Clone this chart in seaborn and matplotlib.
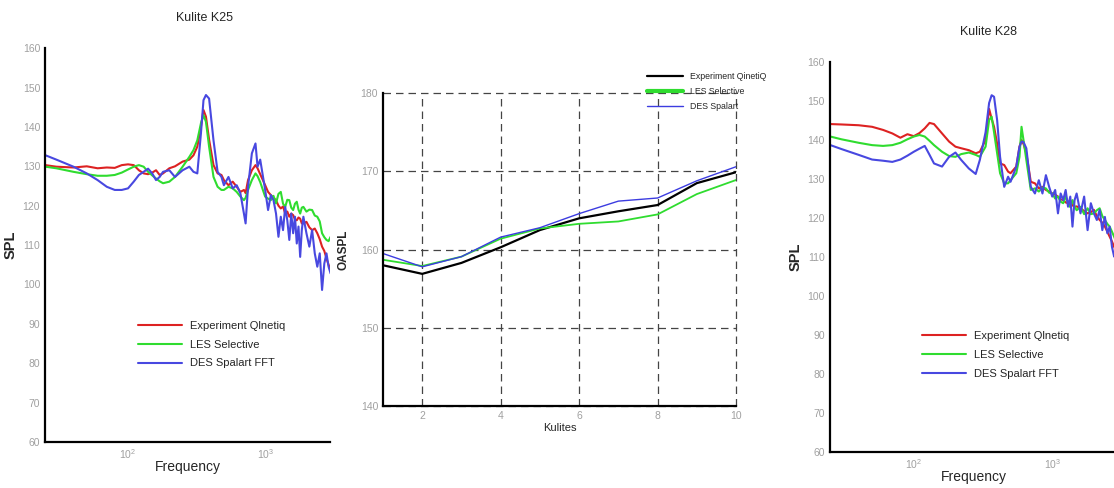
import numpy as np
import pandas as pd
import matplotlib
matplotlib.use("Agg")
import matplotlib.pyplot as plt
import seaborn as sns
from matplotlib.ticker import MultipleLocator, LogLocator

# ---- Kulite K25 spectrum ----
freq_k25 = [25, 30, 40, 50, 60, 70, 80, 90, 100,
            110, 120, 130, 140, 150, 160, 170, 180,
            200, 220, 250, 280, 300, 320, 340, 355, 370, 390,
            420, 450, 480, 500, 540, 580, 620, 660, 700, 720,
            750, 800, 850, 880, 920, 1000, 1050, 1100, 1150, 1200,
            1250, 1300, 1350, 1400, 1450, 1500, 1550, 1600, 1650, 1700,
            1750, 1800, 1850, 1900, 2000, 2100, 2200, 2300, 2400, 2500,
            2600, 2700, 2800, 2900, 3000]
k25_exp = [130.3, 129.9, 129.7, 130.0, 129.5, 129.7, 129.6, 130.3, 130.5,
           130.3, 129.0, 128.2, 128.0, 128.4, 129.0, 127.8, 128.2,
           129.5, 130.0, 131.2, 131.7, 132.8, 135.0, 140.0, 144.3, 142.6, 136.8,
           130.3, 128.2, 127.8, 126.5, 125.2, 126.1, 124.8, 123.5, 124.0, 123.2,
           126.5, 129.0, 130.3, 129.5, 128.0, 125.2, 123.5, 122.7, 122.0, 121.4,
           120.0, 119.3, 119.8, 118.0, 118.5, 117.2, 118.0, 117.6, 116.5, 116.3,
           117.0, 116.7, 115.5, 115.5, 115.9, 114.5, 113.8, 114.2, 113.0, 111.5,
           109.6, 108.5, 106.6, 105.0, 103.7]
k25_les = [129.9, 129.5, 128.6, 128.0, 127.6, 127.6, 127.8, 128.4, 129.2,
           129.9, 130.3, 129.9, 128.6, 127.7, 126.9, 126.2, 125.7,
           126.1, 127.3, 129.9, 132.4, 134.1, 136.6, 140.9, 143.0, 141.3, 135.0,
           127.3, 124.8, 124.0, 124.0, 124.8, 124.4, 123.5, 122.3, 121.4, 122.0,
           124.0, 126.5, 128.2, 127.5, 126.0, 122.3, 121.8, 121.4, 122.5, 120.6,
           123.0, 123.5, 120.5, 119.7, 121.5, 121.4, 119.5, 118.9, 120.5, 121.0,
           119.0, 118.0, 119.5, 119.7, 118.5, 119.0, 118.9, 117.5, 117.2, 116.0,
           113.0, 112.0, 111.3, 111.0, 112.1]
k25_des = [132.8, 131.7, 129.9, 128.2, 126.5, 124.8, 124.0, 124.0, 124.4,
           126.1, 127.8, 128.6, 129.4, 128.2, 126.5, 127.3, 128.6,
           129.0, 127.3, 129.0, 129.9, 128.6, 128.2, 138.3, 146.8, 148.1, 147.2,
           136.6, 128.6, 127.3, 125.2, 127.3, 124.4, 125.2, 123.1, 118.0, 115.5,
           124.8, 133.3, 135.8, 129.9, 131.7, 124.0, 118.9, 122.7, 121.4, 118.0,
           112.1, 117.2, 113.8, 119.7, 116.3, 111.3, 118.0, 113.0, 117.2, 110.4,
           114.7, 107.0, 113.8, 117.2, 113.0, 109.6, 113.8, 107.9, 104.5, 107.9,
           98.6, 105.3, 107.9, 104.5, 102.8]

# ---- Kulite K28 spectrum ----
freq_k28 = [25, 30, 40, 50, 60, 70, 80, 90, 100,
            110, 120, 130, 140, 160, 180, 200, 220, 250, 280,
            300, 330, 350, 365, 380, 400, 420, 450, 480, 500,
            550, 580, 600, 620, 650, 700, 750, 800, 850, 900,
            950, 1000, 1050, 1100, 1150, 1200, 1250, 1300, 1350, 1400,
            1450, 1500, 1600, 1700, 1800, 1900, 2000, 2100, 2200, 2300,
            2400, 2500, 2600, 2700, 2800, 3000]
k28_exp = [144.1, 144.0, 143.8, 143.4, 142.6, 141.7, 140.6, 141.5, 141.0,
           141.8, 143.0, 144.4, 144.1, 141.7, 139.6, 138.3, 137.9, 137.4, 136.6,
           137.0, 140.0, 148.0, 145.5, 143.4, 139.1, 134.0, 133.6, 131.9, 131.5,
           133.2, 138.3, 140.0, 139.0, 136.6, 129.3, 128.9, 127.6, 128.0, 127.2,
           126.8, 126.3, 126.0, 125.5, 124.8, 124.6, 124.0, 123.8, 124.5, 123.3,
           122.8, 123.0, 122.5, 121.8, 121.2, 121.5, 122.1, 120.5, 119.5, 118.8,
           117.8, 116.5, 115.2, 114.0, 112.6, 110.9]
k28_les = [140.9, 140.2, 139.3, 138.7, 138.5, 138.7, 139.3, 140.2, 140.9,
           141.3, 140.9, 139.8, 138.7, 137.0, 135.9, 135.7, 136.4, 136.8, 136.2,
           135.7, 138.3, 145.1, 146.0, 142.0, 136.6, 131.5, 128.9, 128.9, 129.7,
           131.5, 135.7, 143.4, 140.0, 134.9, 127.2, 127.6, 126.8, 127.8, 127.6,
           126.5, 126.3, 125.0, 125.5, 124.2, 123.8, 125.5, 124.0, 122.8, 124.6,
           123.0, 122.0, 122.9, 121.0, 122.5, 121.0, 121.2, 122.0, 122.5, 120.5,
           119.5, 118.5, 117.8, 116.5, 115.2, 112.6]
k28_des = [138.7, 137.7, 136.2, 135.0, 134.7, 134.4, 135.0, 136.0, 137.0,
           137.8, 138.5, 136.2, 134.0, 133.2, 135.7, 136.8, 134.9, 132.7, 131.3,
           134.9, 142.0, 149.5, 151.5, 151.1, 145.1, 135.7, 128.0, 130.6, 129.3,
           133.2, 138.3, 139.6, 139.5, 137.9, 128.0, 126.3, 129.7, 126.3, 131.0,
           128.0, 125.5, 127.2, 121.2, 126.3, 124.6, 127.2, 122.9, 125.5, 117.8,
           124.6, 126.3, 121.2, 125.5, 116.9, 123.8, 121.2, 119.5, 122.1, 116.9,
           120.3, 116.1, 117.8, 112.6, 110.1, 112.6]

# ---- OASPL along the kulites ----
kulites = [1, 2, 3, 4, 5, 6, 7, 8, 9, 10]
oaspl_exp = [158.0, 156.9, 158.3, 160.3, 162.5, 164.0, 164.9, 165.7, 168.5, 169.9]
oaspl_les = [158.7, 157.9, 159.1, 161.4, 162.7, 163.3, 163.6, 164.5, 167.1, 168.9]
oaspl_des = [159.5, 157.8, 159.1, 161.6, 162.8, 164.6, 166.2, 166.6, 168.8, 170.6]

spec_labels = ["Experiment Qlnetiq", "LES Selective", "DES Spalart FFT"]
spec_colors = ["#dd2222", "#2fdc2f", "#4848e0"]
oaspl_labels = ["Experiment QinetiQ", "LES Selective", "DES Spalart"]
oaspl_colors = ["black", "#2fdc2f", "#3c3ce0"]

sns.set_style("white")
plt.rcParams["font.family"] = ["Liberation Sans", "DejaVu Sans"]
plt.rcParams["mathtext.fontset"] = "custom"
plt.rcParams["mathtext.rm"] = "Liberation Sans"
tick_grey = "#a0a0a0"

fig = plt.figure(figsize=(11.14, 4.88), dpi=100)


def style_axes(ax):
    for side in ["top", "right"]:
        ax.spines[side].set_visible(False)
    for side in ["left", "bottom"]:
        ax.spines[side].set_linewidth(1.6)
        ax.spines[side].set_color("black")
    ax.tick_params(which="major", direction="in", length=6, width=1.2,
                   color="black", labelcolor=tick_grey, labelsize=7.5)
    ax.tick_params(which="minor", direction="in", length=3, width=0.8,
                   color="black")


def spectrum_panel(rect, freq, series, title, title_xy, leg_xy, lab_x, lab_y):
    ax = fig.add_axes(rect)
    for vals, lab, col in zip(series, spec_labels, spec_colors):
        df = pd.DataFrame({"f": freq, "spl": vals})
        sns.lineplot(data=df, x="f", y="spl", ax=ax, color=col, label=lab,
                     linewidth=1.5, estimator=None)
    ax.set_xscale("log")
    ax.set_xlim(24.8, 2980)
    ax.set_ylim(60, 160)
    ax.xaxis.set_major_locator(LogLocator(base=10, numticks=5))
    ax.xaxis.set_minor_locator(LogLocator(base=10, subs=np.arange(2, 10), numticks=20))
    ax.yaxis.set_major_locator(MultipleLocator(10))
    ax.yaxis.set_minor_locator(MultipleLocator(2))
    style_axes(ax)
    ax.set_xlabel("Frequency", fontsize=10)
    ax.set_ylabel("SPL", fontsize=10.5, fontweight="bold")
    ax.xaxis.set_label_coords(0.5, lab_y)
    ax.yaxis.set_label_coords(lab_x, 0.5)
    ax.legend(loc="upper left", bbox_to_anchor=leg_xy, frameon=False,
              fontsize=8, handlelength=4.0, handletextpad=0.7,
              labelspacing=0.8, borderpad=0, borderaxespad=0)
    fig.text(title_xy[0], title_xy[1], title, ha="center", va="center",
             fontsize=9)
    return ax


spectrum_panel([0.0404, 0.0943, 0.256, 0.807], freq_k25,
               [k25_exp, k25_les, k25_des], "Kulite K25",
               (205 / 1114, 1 - 18 / 488), (0.325, 0.308), -0.095, -0.045)
spectrum_panel([0.745, 0.0738, 0.2585, 0.799], freq_k28,
               [k28_exp, k28_les, k28_des], "Kulite K28",
               (988 / 1114, 1 - 32 / 488), (0.319, 0.311), -0.094, -0.045)

# ---- middle OASPL panel ----
ax = fig.add_axes([0.3438, 0.168, 0.3169, 0.641])
widths = [1.6, 1.3, 1.0]
for vals, lab, col, lw in zip([oaspl_exp, oaspl_les, oaspl_des], oaspl_labels,
                              oaspl_colors, widths):
    df = pd.DataFrame({"k": kulites, "oaspl": vals})
    sns.lineplot(data=df, x="k", y="oaspl", ax=ax, color=col, label=lab,
                 linewidth=lw, estimator=None)
ax.set_xlim(1, 10)
ax.set_ylim(140, 180)
ax.xaxis.set_major_locator(MultipleLocator(2))
ax.xaxis.set_minor_locator(MultipleLocator(0.5))
ax.yaxis.set_major_locator(MultipleLocator(10))
ax.yaxis.set_minor_locator(MultipleLocator(2))
style_axes(ax)
ax.grid(True, which="major", linestyle=(0, (6, 4)), color="#444444", linewidth=0.9)
for gl in ax.get_xgridlines() + ax.get_ygridlines():
    gl.set_clip_on(False)
ax.set_axisbelow(True)
ax.set_xlabel("Kulites", fontsize=8)
ax.set_ylabel("OASPL", fontsize=8.5, fontweight="bold")
ax.xaxis.set_label_coords(0.5, -0.055)
ax.yaxis.set_label_coords(-0.095, 0.5)
leg = ax.legend(loc="upper left", bbox_to_anchor=(647 / 1114, 1 - 72 / 488),
                bbox_transform=fig.transFigure, frameon=False, fontsize=6.3,
                handlelength=4.1, handletextpad=0.8, labelspacing=0.7,
                borderpad=0, borderaxespad=0)
leg.get_lines()[1].set_linewidth(3)

fig.savefig("out.png", dpi=100)
